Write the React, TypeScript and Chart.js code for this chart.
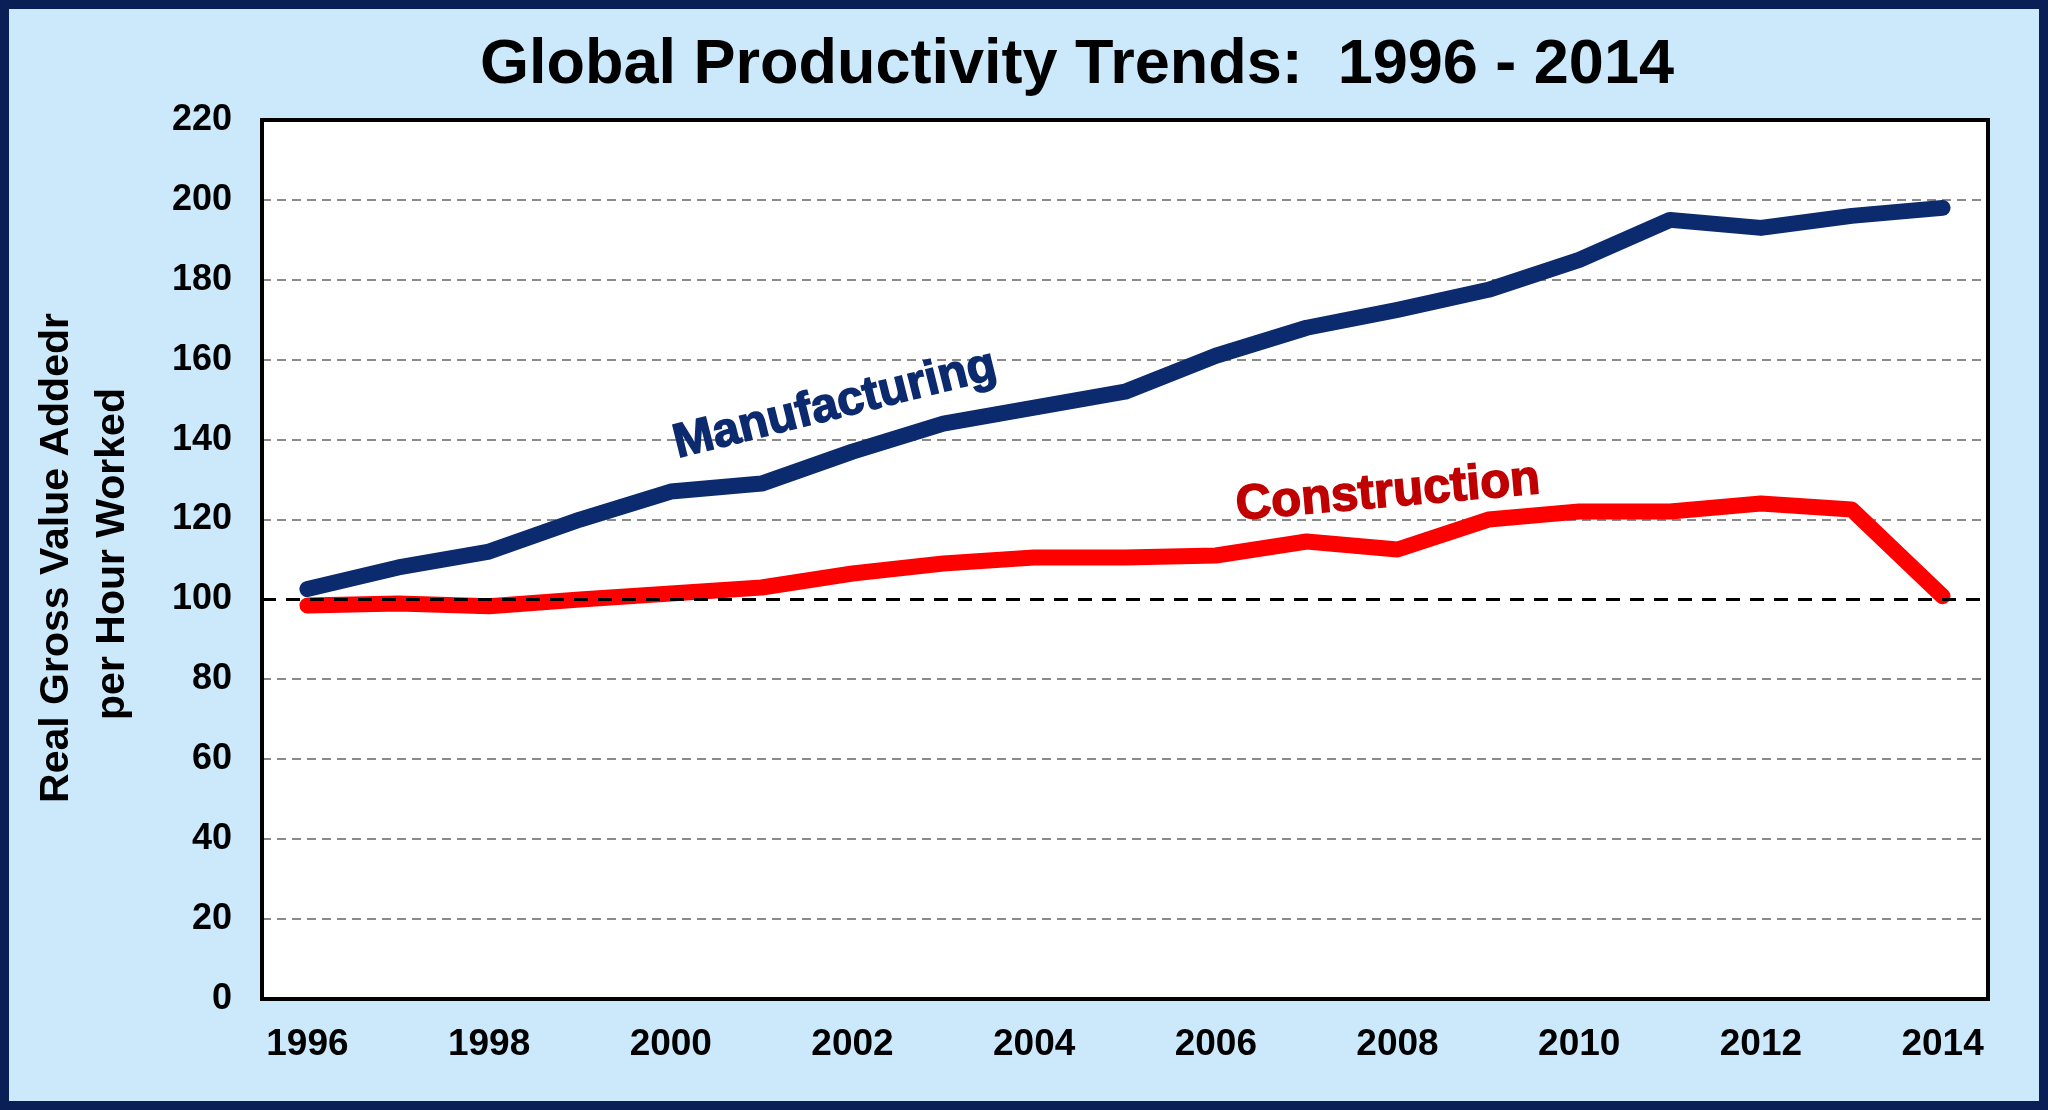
import React, { useEffect, useRef } from "react";
import { Chart, registerables } from "chart.js";

Chart.register(...registerables);

const years = ["1996","1997","1998","1999","2000","2001","2002","2003","2004","2005","2006","2007","2008","2009","2010","2011","2012","2013","2014"];
const manufacturing = [102.6, 108, 112, 120, 127, 129, 137, 144, 148, 152, 161, 168, 172.5, 177.5, 185, 195, 193, 196, 198];
const construction = [98.5, 99, 98.3, 100, 101.5, 103, 106.5, 109, 110.5, 110.5, 111, 114.5, 112.5, 120, 122, 122, 124, 122.5, 100.8];
const baselineValue = 100;
const chartTitle = "Global Productivity Trends:  1996 - 2014";
const yTitleLines = ["Real Gross Value Addedr", "per Hour Worked"];
const seriesNames = ["Manufacturing", "Construction"];

const NAVY = "#0c2a6e";
const RED = "#ff0000";
const BG = "#cce9fb";
const FONT = "'Liberation Sans', Arial, sans-serif";

export default function App() {
  const ref = useRef<HTMLCanvasElement | null>(null);

  useEffect(() => {
    document.body.style.margin = "0";
    const canvas = ref.current!;
    const decor = {
      id: "decor",
      beforeDraw(chart: any) {
        const { ctx, chartArea: a } = chart;
        ctx.save();
        ctx.fillStyle = BG;
        ctx.fillRect(0, 0, chart.width, chart.height);
        ctx.fillStyle = "#ffffff";
        ctx.fillRect(a.left, a.top, a.right - a.left, a.bottom - a.top);
        ctx.restore();
      },
      afterDatasetsDraw(chart: any) {
        const { ctx, chartArea: a, scales } = chart;
        ctx.save();
        const y100 = scales.y.getPixelForValue(baselineValue);
        ctx.strokeStyle = "#000";
        ctx.lineWidth = 3;
        ctx.setLineDash([14, 10]);
        ctx.beginPath();
        ctx.moveTo(a.left, y100);
        ctx.lineTo(a.right, y100);
        ctx.stroke();
        ctx.setLineDash([]);
        ctx.lineWidth = 4;
        ctx.strokeRect(a.left, a.top, a.right - a.left, a.bottom - a.top);
        // outer border
        ctx.strokeStyle = "#0a1f55";
        ctx.lineWidth = 9;
        ctx.strokeRect(4.5, 4.5, chart.width - 9, chart.height - 9);
        // title
        ctx.fillStyle = "#000";
        ctx.font = `bold 63px ${FONT}`;
        ctx.textAlign = "center";
        ctx.textBaseline = "middle";
        ctx.fillText(chartTitle, 1077, 66);
        // y title
        ctx.font = `bold 41px ${FONT}`;
        ctx.save();
        ctx.translate(57, 558);
        ctx.rotate(-Math.PI / 2);
        ctx.fillText(yTitleLines[0], 0, 0);
        ctx.restore();
        ctx.save();
        ctx.translate(113, 554);
        ctx.rotate(-Math.PI / 2);
        ctx.fillText(yTitleLines[1], 0, 0);
        ctx.restore();
        // annotations
        ctx.save();
        ctx.fillStyle = NAVY;
        ctx.strokeStyle = NAVY;
        ctx.lineWidth = 1.5;
        ctx.font = `bold 48px ${FONT}`;
        ctx.translate(835, 405);
        ctx.rotate(-14 * Math.PI / 180);
        ctx.fillText(seriesNames[0], 0, 0);
        ctx.strokeText(seriesNames[0], 0, 0);
        ctx.restore();
        ctx.save();
        ctx.fillStyle = "#c00000";
        ctx.strokeStyle = "#c00000";
        ctx.lineWidth = 1.5;
        ctx.font = `bold 49px ${FONT}`;
        ctx.translate(1388, 493);
        ctx.rotate(-5 * Math.PI / 180);
        ctx.fillText(seriesNames[1], 0, 0);
        ctx.strokeText(seriesNames[1], 0, 0);
        ctx.restore();
        ctx.restore();
      },
    };

    const chart = new Chart(canvas, {
      type: "line",
      data: {
        labels: years,
        datasets: [
          {
            label: seriesNames[0],
            data: manufacturing,
            borderColor: NAVY,
            borderWidth: 16,
            pointRadius: 0,
            tension: 0,
            borderCapStyle: "round",
            borderJoinStyle: "round",
          },
          {
            label: seriesNames[1],
            data: construction,
            borderColor: RED,
            borderWidth: 16,
            pointRadius: 0,
            tension: 0,
            borderCapStyle: "round",
            borderJoinStyle: "round",
          },
        ],
      },
      options: {
        responsive: false,
        animation: false,
        layout: { padding: { left: 0, top: 120, right: 60, bottom: 0 } },
        plugins: { legend: { display: false }, title: { display: false }, tooltip: { enabled: false } },
        scales: {
          x: {
            type: "category",
            offset: true,
            grid: { display: false, drawTicks: false },
            border: { display: false },
            afterFit(scale: any) { scale.height = 111; },
            ticks: {
              autoSkip: false,
              maxRotation: 0,
              padding: 24,
              color: "#000",
              font: { family: FONT, size: 37, weight: "bold" },
              callback: function (this: any, v: any, i: number) {
                return i % 2 === 0 ? this.getLabelForValue(v) : "";
              },
            },
          },
          y: {
            min: 0,
            max: 220,
            afterFit(scale: any) { scale.width = 262; },
            grid: {
              drawTicks: false,
              color: (c: any) => (c.tick && c.tick.value === baselineValue ? "rgba(0,0,0,0)" : "#8a8a8a"),
              lineWidth: 2,
            },
            border: { display: false, dash: [9, 6] },
            ticks: {
              stepSize: 20,
              padding: 30,
              color: "#000",
              font: { family: FONT, size: 36, weight: "bold" },
            },
          },
        },
      },
      plugins: [decor],
    });
    return () => chart.destroy();
  }, []);

  return (
    <div style={{ width: 2048, height: 1110 }}>
      <canvas ref={ref} width={2048} height={1110} style={{ display: "block", width: 2048, height: 1110 }} />
    </div>
  );
}
